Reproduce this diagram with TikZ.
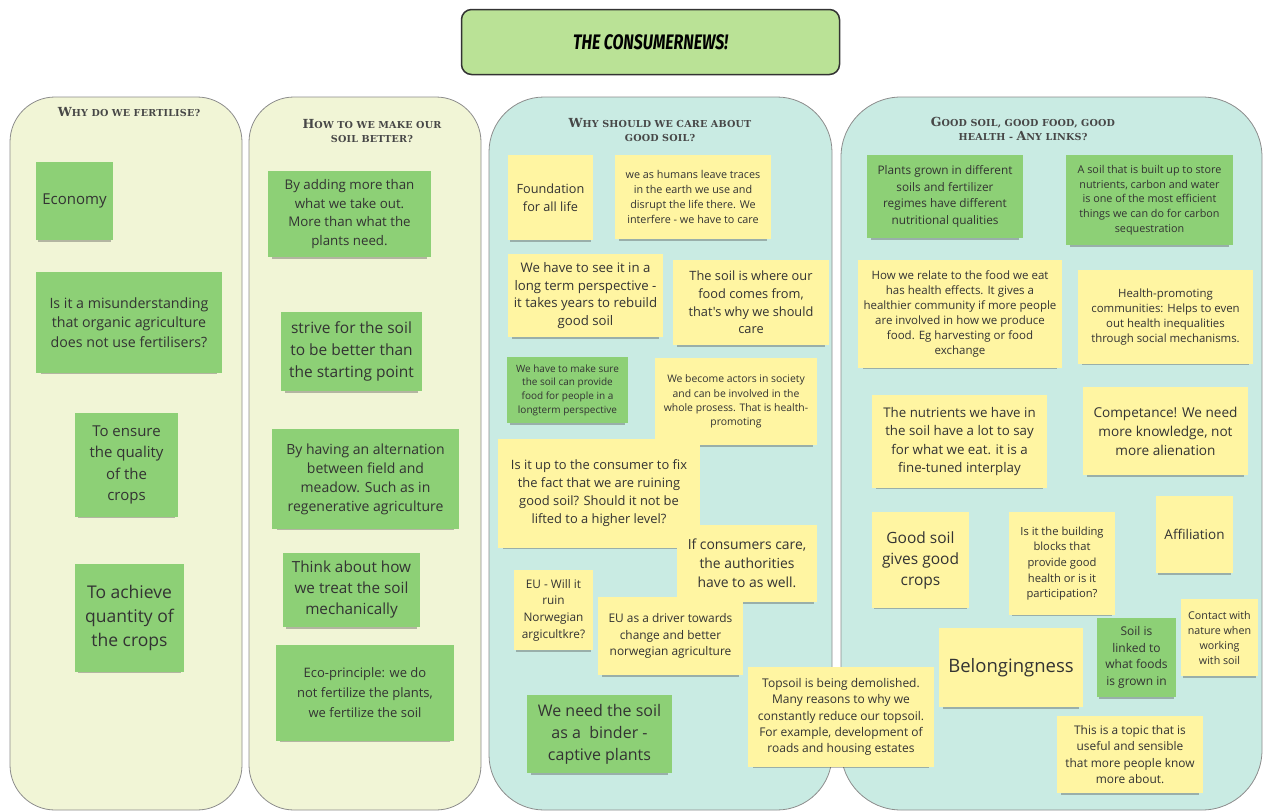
\documentclass[tikz,border=0pt]{standalone}
\usepackage{fontspec}
\usetikzlibrary{shadows}
\newfontfamily\notefont{Open Sans}
\newfontfamily\titlefont{Fira Sans}
\newfontfamily\hdrfont[LetterSpace=2]{DejaVu Serif}
\newcommand\fsz[2]{\fontsize{#1}{#2}\selectfont}
\newcommand\bc[1]{{\fsz{12.5}{14}#1}}
\definecolor{cream}{HTML}{F1F5D6}
\definecolor{teal}{HTML}{C9EBE3}
\definecolor{notegreen}{HTML}{8DD076}
\definecolor{noteyellow}{HTML}{FFF5A2}
\definecolor{titlegreen}{HTML}{BAE296}
\definecolor{ink}{HTML}{333333}
\tikzset{
  colbox/.style={draw=black!45, line width=0.8pt},
  hdr/.style={align=center, text=ink!90, font=\hdrfont\bfseries\fsz{9.6}{14}},
  note/.style={inner sep=0pt, align=center, text=ink,
    drop shadow={shadow xshift=0pt, shadow yshift=-4pt, shadow scale=0.95, opacity=0.35, fill=black!75}},
  gnote/.style={note, fill=notegreen},
  ynote/.style={note, fill=noteyellow},
}
\begin{document}
\begin{tikzpicture}[x=1pt,y=-1pt]
\useasboundingbox (0,0) rectangle (1264,811);
% title
\node[draw=black!80, line width=1.5pt, fill=titlegreen, rounded corners=10pt,
  minimum width=378pt, minimum height=65pt, inner sep=0pt] (title) at (650.5,42)
  {\titlefont\bfseries\itshape\fsz{21}{24}\scalebox{0.76}[1]{THE CONSUMERNEWS!}};
% columns
\draw[colbox, fill=cream, rounded corners=45pt] (10,97) rectangle (242,810);
\draw[colbox, fill=cream, rounded corners=45pt] (249,97) rectangle (481,810);
\draw[colbox, fill=teal, rounded corners=55pt] (489,97) rectangle (832,810);
\draw[colbox, fill=teal, rounded corners=60pt] (841,97) rectangle (1262,810);
% headers
\node[hdr] (h1) at (129,112) {\bc{W}HY DO WE FERTILISE?};
\node[hdr] (h2) at (372,131) {\bc{H}OW TO WE MAKE OUR\\SOIL BETTER?};
\node[hdr] (h3) at (660,130) {\bc{W}HY SHOULD WE CARE ABOUT\\GOOD SOIL?};
\node[hdr] (h4) at (1023,129) {\bc{G}OOD SOIL, GOOD FOOD, GOOD\\HEALTH - \bc{A}NY LINKS?};
% column 1
\node[gnote, minimum width=77pt, minimum height=78pt, font=\notefont\fsz{15}{18}] (economy) at (74.5,201) {Economy};
\node[gnote, minimum width=186pt, minimum height=101pt, font=\notefont\fsz{14.2}{19.7}] (misund) at (129,322.5) {Is it a misunderstanding\\that organic agriculture\\does not use fertilisers?};
\node[gnote, minimum width=103pt, minimum height=104pt, font=\notefont\fsz{15}{21.5}] (ensure) at (126.5,465) {To ensure\\the quality\\of the\\crops};
\node[gnote, minimum width=109pt, minimum height=108pt, font=\notefont\fsz{17.5}{24}] (achieve) at (129.5,618) {To achieve\\quantity of\\the crops};
% column 2
\node[gnote, minimum width=163pt, minimum height=86pt, font=\notefont\fsz{13.3}{18.5}] (adding) at (349.5,214) {By adding more than\\what we take out.\\More than what the\\plants need.};
\node[gnote, minimum width=141pt, minimum height=79pt, font=\notefont\fsz{15.5}{22}] (strive) at (351.5,351.5) {strive for the soil\\to be better than\\the starting point};
\node[gnote, minimum width=187pt, minimum height=100pt, font=\notefont\fsz{14}{19}] (altern) at (365.5,479) {By having an alternation\\between field and\\meadow. Such as in\\regenerative agriculture};
\node[gnote, minimum width=137pt, minimum height=74pt, font=\notefont\fsz{15.3}{21}] (think) at (351.5,590) {Think about how\\we treat the soil\\mechanically};
\node[gnote, minimum width=178pt, minimum height=96pt, font=\notefont\fsz{13}{20}] (eco) at (365,693) {Eco-principle: we do\\not fertilize the plants,\\we fertilize the soil};
% column 3
\node[ynote, minimum width=85pt, minimum height=85pt, font=\notefont\fsz{12.7}{18}] (found) at (550.5,197.5) {Foundation\\for all life};
\node[ynote, minimum width=156pt, minimum height=84pt, font=\notefont\fsz{10.8}{15}] (traces) at (693,197) {we as humans leave traces\\in the earth we use and\\disrupt the life there. We\\interfere - we have to care};
\node[ynote, minimum width=155pt, minimum height=83pt, font=\notefont\fsz{13.2}{17.5}] (longterm) at (585.5,295.5) {We have to see it in a\\long term perspective -\\it takes years to rebuild\\good soil};
\node[ynote, minimum width=156pt, minimum height=85pt, font=\notefont\fsz{12.8}{17.7}] (foodfrom) at (751,302.5) {The soil is where our\\food comes from,\\that's why we should\\care};
\node[gnote, minimum width=121pt, minimum height=66pt, font=\notefont\fsz{10}{13.7}] (makesure) at (567.5,390) {We have to make sure\\the soil can provide\\food for people in a\\longterm perspective};
\node[ynote, minimum width=162pt, minimum height=87pt, font=\notefont\fsz{10.4}{14.3}] (actors) at (736,401.5) {We become actors in society\\and can be involved in the\\whole prosess. That is health-\\promoting};
\node[ynote, minimum width=202pt, minimum height=109pt, font=\notefont\fsz{12.9}{18}] (upto) at (599,493.5) {Is it up to the consumer to fix\\the fact that we are ruining\\good soil? Should it not be\\lifted to a higher level?};
\node[ynote, minimum width=140pt, minimum height=77pt, font=\notefont\fsz{13.9}{19}] (ifcons) at (747,563.5) {If consumers care,\\the authorities\\have to as well.};
\node[ynote, minimum width=79pt, minimum height=80pt, font=\notefont\fsz{11.8}{16.7}] (euruin) at (553.5,610) {EU - Will it\\ruin\\Norwegian\\argicultkre?};
\node[ynote, minimum width=145pt, minimum height=78pt, font=\notefont\fsz{11.9}{16.5}] (eudriver) at (670.5,636) {EU as a driver towards\\change and better\\norwegian agriculture};
\node[gnote, minimum width=145pt, minimum height=78pt, font=\notefont\fsz{16}{22}] (binder) at (599.5,734) {We need the soil\\as a~ binder -\\captive plants};
\node[ynote, minimum width=186pt, minimum height=100pt, font=\notefont\fsz{12}{16.3}] (topsoil) at (841,717) {Topsoil is being demolished.\\Many reasons to why we\\constantly reduce our topsoil.\\For example, development of\\roads and housing estates};
% column 4
\node[gnote, minimum width=156pt, minimum height=83pt, font=\notefont\fsz{11.8}{16.7}] (plants) at (945,196.5) {Plants grown in different\\soils and fertilizer\\regimes have different\\nutritional qualities};
\node[gnote, minimum width=167pt, minimum height=90pt, font=\notefont\fsz{10.8}{14.7}] (carbon) at (1149.5,200) {A soil that is built up to store\\nutrients, carbon and water\\is one of the most efficient\\things we can do for carbon\\sequestration};
\node[ynote, minimum width=204pt, minimum height=108pt, font=\notefont\fsz{11.5}{15}] (relate) at (960,314) {How we relate to the food we eat\\has health effects. It gives a\\healthier community if more people\\are involved in how we produce\\food. Eg harvesting or food\\exchange};
\node[ynote, minimum width=175pt, minimum height=94pt, font=\notefont\fsz{11.4}{15.3}] (healthprom) at (1165.5,317) {Health-promoting\\communities: Helps to even\\out health inequalities\\through social mechanisms.};
\node[ynote, minimum width=175pt, minimum height=93pt, font=\notefont\fsz{13.3}{18.3}] (nutrients) at (959.5,441.5) {The nutrients we have in\\the soil have a lot to say\\for what we eat. it is a\\fine-tuned interplay};
\node[ynote, minimum width=165pt, minimum height=88pt, font=\notefont\fsz{13.6}{19}] (compet) at (1165.5,431) {Competance! We need\\more knowledge, not\\more alienation};
\node[ynote, minimum width=97pt, minimum height=96pt, font=\notefont\fsz{15.5}{21}] (goodsoil) at (920.5,560) {Good soil\\gives good\\crops};
\node[ynote, minimum width=106pt, minimum height=103pt, font=\notefont\fsz{11.2}{15.7}] (building) at (1062,563.5) {Is it the building\\blocks that\\provide good\\health or is it\\participation?};
\node[ynote, minimum width=77pt, minimum height=77pt, font=\notefont\fsz{13.5}{16}] (affil) at (1194.5,534.5) {Affiliation};
\node[ynote, minimum width=144pt, minimum height=79pt, font=\notefont\fsz{18.5}{22}] (belong) at (1011,667.5) {Belongingness};
\node[gnote, minimum width=79pt, minimum height=79pt, font=\notefont\fsz{12}{16.7}] (linked) at (1136.5,657.5) {Soil is\\linked to\\what foods\\is grown in};
\node[ynote, minimum width=77pt, minimum height=77pt, font=\notefont\fsz{10.7}{15}] (contact) at (1219.5,637.5) {Contact with\\nature when\\working\\with soil};
\node[ynote, minimum width=146pt, minimum height=77pt, font=\notefont\fsz{11.9}{16.3}] (topic) at (1130,754.5) {This is a topic that is\\useful and sensible\\that more people know\\more about.};
\end{tikzpicture}
\end{document}
